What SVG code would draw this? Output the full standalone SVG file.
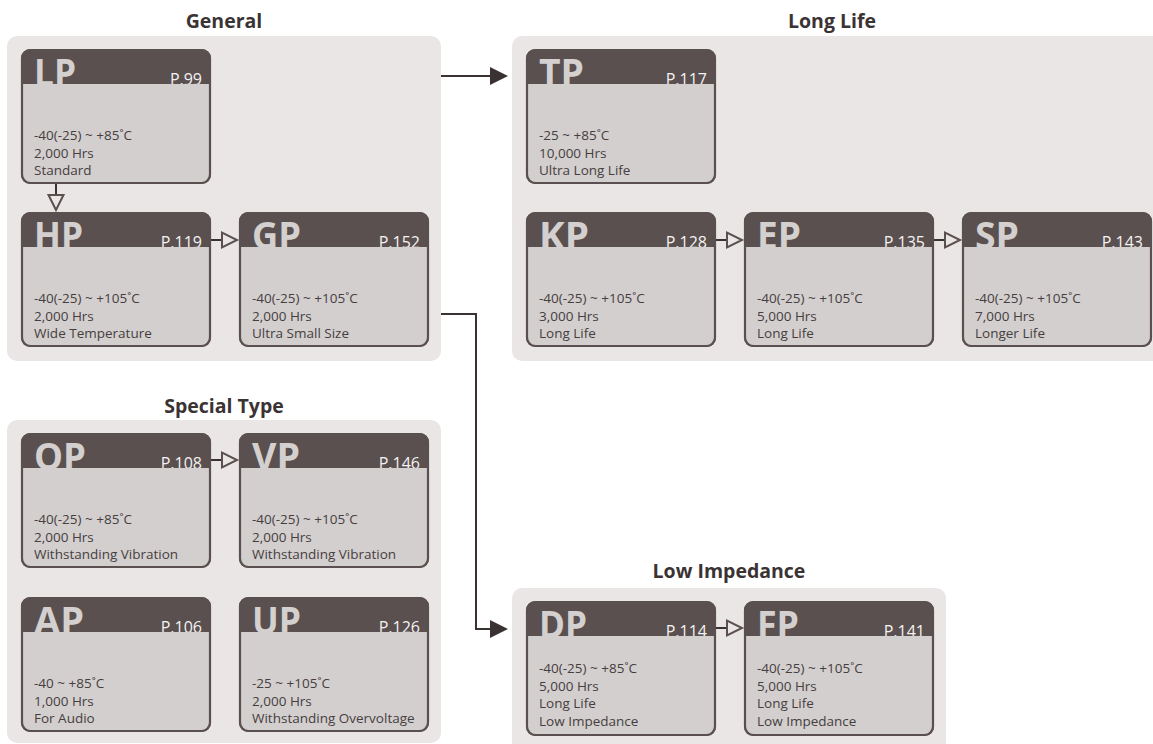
<svg xmlns="http://www.w3.org/2000/svg" width="1153" height="744" viewBox="0 0 1153 744">
<defs>
<style>
.panel{fill:#eae6e6}
.title{font-family:"Open Sans","Liberation Sans",sans-serif;font-weight:bold;font-size:19.5px;fill:#3b3333;text-anchor:middle}
.hd{fill:#5a504f}
.bd{fill:#d3cfce}
.ol{fill:none;stroke:#5a504f;stroke-width:2.2}
.big{font-family:"Open Sans","Liberation Sans",sans-serif;font-weight:bold;font-size:38px;fill:#d4d0cf}
.pg{font-family:"Open Sans","Liberation Sans",sans-serif;font-size:16px;fill:#f4f2f2;text-anchor:end}
.tx{font-family:"Open Sans","Liberation Sans",sans-serif;font-size:13.5px;fill:#463e3e}
.ln{fill:none;stroke:#3a3232;stroke-width:2}
.hol{fill:#eae6e6;stroke:#5a504f;stroke-width:2;stroke-linejoin:miter}
.sol{fill:#3a3232}
</style>
</defs>

<g id="panels">
<rect class="panel" x="7" y="36" width="434" height="325" rx="10"/>
<rect class="panel" x="512" y="36" width="660" height="325" rx="10"/>
<rect class="panel" x="7" y="420" width="434" height="323" rx="10"/>
<rect class="panel" x="512" y="588" width="434" height="170" rx="10"/>
<text class="title" x="224" y="28">General</text>
<text class="title" x="832" y="28">Long Life</text>
<text class="title" x="224" y="413">Special Type</text>
<text class="title" x="729" y="578">Low Impedance</text>
</g>

<g id="connectors">
<path class="ln" d="M441,76 H492"/>
<path class="sol" d="M490,67 L508,76 L490,85 Z"/>
<path class="ln" d="M441,314 H476 V629 H492"/>
<path class="sol" d="M490,620 L508,629 L490,638 Z"/>
<path class="ln" d="M56,184 V195"/>
<path class="hol" d="M48.5,195 H63.5 L56,210 Z"/>
<path class="ln" d="M211,240 H222"/>
<path class="hol" d="M222,232.5 V247.5 L237,240 Z"/>
<path class="ln" d="M716,240 H727"/>
<path class="hol" d="M727,232.5 V247.5 L742,240 Z"/>
<path class="ln" d="M934,240 H945"/>
<path class="hol" d="M945,232.5 V247.5 L960,240 Z"/>
<path class="ln" d="M211,460 H222"/>
<path class="hol" d="M222,452.5 V467.5 L237,460 Z"/>
<path class="ln" d="M716,628 H727"/>
<path class="hol" d="M727,620.5 V635.5 L742,628 Z"/>
</g>

<g id="LP" transform="translate(21,49)">
<rect class="hd" width="190" height="135" rx="9"/>
<text class="big" x="13" y="37" textLength="42" lengthAdjust="spacingAndGlyphs">LP</text>
<text class="pg" x="181" y="35.5">P.99</text>
<path class="bd" d="M1,35 H189 V126 A8,8 0 0 1 181,134 H9 A8,8 0 0 1 1,126 Z"/>
<rect class="ol" x="1" y="1" width="188" height="133" rx="8.5"/>
<text class="tx" x="13" y="91">-40(-25) ~ +85˚C</text>
<text class="tx" x="13" y="108.5">2,000 Hrs</text>
<text class="tx" x="13" y="126">Standard</text>
</g>

<g id="HP" transform="translate(21,212)">
<rect class="hd" width="190" height="135" rx="9"/>
<text class="big" x="13" y="37" textLength="49" lengthAdjust="spacingAndGlyphs">HP</text>
<text class="pg" x="181" y="35.5">P.119</text>
<path class="bd" d="M1,35 H189 V126 A8,8 0 0 1 181,134 H9 A8,8 0 0 1 1,126 Z"/>
<rect class="ol" x="1" y="1" width="188" height="133" rx="8.5"/>
<text class="tx" x="13" y="91">-40(-25) ~ +105˚C</text>
<text class="tx" x="13" y="108.5">2,000 Hrs</text>
<text class="tx" x="13" y="126">Wide Temperature</text>
</g>

<g id="GP" transform="translate(239,212)">
<rect class="hd" width="190" height="135" rx="9"/>
<text class="big" x="13" y="37" textLength="49" lengthAdjust="spacingAndGlyphs">GP</text>
<text class="pg" x="181" y="35.5">P.152</text>
<path class="bd" d="M1,35 H189 V126 A8,8 0 0 1 181,134 H9 A8,8 0 0 1 1,126 Z"/>
<rect class="ol" x="1" y="1" width="188" height="133" rx="8.5"/>
<text class="tx" x="13" y="91">-40(-25) ~ +105˚C</text>
<text class="tx" x="13" y="108.5">2,000 Hrs</text>
<text class="tx" x="13" y="126">Ultra Small Size</text>
</g>

<g id="TP" transform="translate(526,49)">
<rect class="hd" width="190" height="135" rx="9"/>
<text class="big" x="13" y="37" textLength="45" lengthAdjust="spacingAndGlyphs">TP</text>
<text class="pg" x="181" y="35.5">P.117</text>
<path class="bd" d="M1,35 H189 V126 A8,8 0 0 1 181,134 H9 A8,8 0 0 1 1,126 Z"/>
<rect class="ol" x="1" y="1" width="188" height="133" rx="8.5"/>
<text class="tx" x="13" y="91">-25 ~ +85˚C</text>
<text class="tx" x="13" y="108.5">10,000 Hrs</text>
<text class="tx" x="13" y="126">Ultra Long Life</text>
</g>

<g id="KP" transform="translate(526,212)">
<rect class="hd" width="190" height="135" rx="9"/>
<text class="big" x="13" y="37" textLength="50" lengthAdjust="spacingAndGlyphs">KP</text>
<text class="pg" x="181" y="35.5">P.128</text>
<path class="bd" d="M1,35 H189 V126 A8,8 0 0 1 181,134 H9 A8,8 0 0 1 1,126 Z"/>
<rect class="ol" x="1" y="1" width="188" height="133" rx="8.5"/>
<text class="tx" x="13" y="91">-40(-25) ~ +105˚C</text>
<text class="tx" x="13" y="108.5">3,000 Hrs</text>
<text class="tx" x="13" y="126">Long Life</text>
</g>

<g id="EP" transform="translate(744,212)">
<rect class="hd" width="190" height="135" rx="9"/>
<text class="big" x="13" y="37" textLength="44" lengthAdjust="spacingAndGlyphs">EP</text>
<text class="pg" x="181" y="35.5">P.135</text>
<path class="bd" d="M1,35 H189 V126 A8,8 0 0 1 181,134 H9 A8,8 0 0 1 1,126 Z"/>
<rect class="ol" x="1" y="1" width="188" height="133" rx="8.5"/>
<text class="tx" x="13" y="91">-40(-25) ~ +105˚C</text>
<text class="tx" x="13" y="108.5">5,000 Hrs</text>
<text class="tx" x="13" y="126">Long Life</text>
</g>

<g id="SP" transform="translate(962,212)">
<rect class="hd" width="190" height="135" rx="9"/>
<text class="big" x="13" y="37" textLength="44" lengthAdjust="spacingAndGlyphs">SP</text>
<text class="pg" x="181" y="35.5">P.143</text>
<path class="bd" d="M1,35 H189 V126 A8,8 0 0 1 181,134 H9 A8,8 0 0 1 1,126 Z"/>
<rect class="ol" x="1" y="1" width="188" height="133" rx="8.5"/>
<text class="tx" x="13" y="91">-40(-25) ~ +105˚C</text>
<text class="tx" x="13" y="108.5">7,000 Hrs</text>
<text class="tx" x="13" y="126">Longer Life</text>
</g>

<g id="QP" transform="translate(21,433)">
<rect class="hd" width="190" height="135" rx="9"/>
<text class="big" x="13" y="37" textLength="52" lengthAdjust="spacingAndGlyphs">QP</text>
<text class="pg" x="181" y="35.5">P.108</text>
<path class="bd" d="M1,35 H189 V126 A8,8 0 0 1 181,134 H9 A8,8 0 0 1 1,126 Z"/>
<rect class="ol" x="1" y="1" width="188" height="133" rx="8.5"/>
<text class="tx" x="13" y="91">-40(-25) ~ +85˚C</text>
<text class="tx" x="13" y="108.5">2,000 Hrs</text>
<text class="tx" x="13" y="126">Withstanding Vibration</text>
</g>

<g id="VP" transform="translate(239,433)">
<rect class="hd" width="190" height="135" rx="9"/>
<text class="big" x="13" y="37" textLength="48" lengthAdjust="spacingAndGlyphs">VP</text>
<text class="pg" x="181" y="35.5">P.146</text>
<path class="bd" d="M1,35 H189 V126 A8,8 0 0 1 181,134 H9 A8,8 0 0 1 1,126 Z"/>
<rect class="ol" x="1" y="1" width="188" height="133" rx="8.5"/>
<text class="tx" x="13" y="91">-40(-25) ~ +105˚C</text>
<text class="tx" x="13" y="108.5">2,000 Hrs</text>
<text class="tx" x="13" y="126">Withstanding Vibration</text>
</g>

<g id="AP" transform="translate(21,597)">
<rect class="hd" width="190" height="135" rx="9"/>
<text class="big" x="13" y="37" textLength="50" lengthAdjust="spacingAndGlyphs">AP</text>
<text class="pg" x="181" y="35.5">P.106</text>
<path class="bd" d="M1,35 H189 V126 A8,8 0 0 1 181,134 H9 A8,8 0 0 1 1,126 Z"/>
<rect class="ol" x="1" y="1" width="188" height="133" rx="8.5"/>
<text class="tx" x="13" y="91">-40 ~ +85˚C</text>
<text class="tx" x="13" y="108.5">1,000 Hrs</text>
<text class="tx" x="13" y="126">For Audio</text>
</g>

<g id="UP" transform="translate(239,597)">
<rect class="hd" width="190" height="135" rx="9"/>
<text class="big" x="13" y="37" textLength="49" lengthAdjust="spacingAndGlyphs">UP</text>
<text class="pg" x="181" y="35.5">P.126</text>
<path class="bd" d="M1,35 H189 V126 A8,8 0 0 1 181,134 H9 A8,8 0 0 1 1,126 Z"/>
<rect class="ol" x="1" y="1" width="188" height="133" rx="8.5"/>
<text class="tx" x="13" y="91">-25 ~ +105˚C</text>
<text class="tx" x="13" y="108.5">2,000 Hrs</text>
<text class="tx" x="13" y="126">Withstanding Overvoltage</text>
</g>

<g id="DP" transform="translate(526,601)">
<rect class="hd" width="190" height="135" rx="9"/>
<text class="big" x="13" y="37" textLength="48" lengthAdjust="spacingAndGlyphs">DP</text>
<text class="pg" x="181" y="35.5">P.114</text>
<path class="bd" d="M1,35 H189 V126 A8,8 0 0 1 181,134 H9 A8,8 0 0 1 1,126 Z"/>
<rect class="ol" x="1" y="1" width="188" height="133" rx="8.5"/>
<text class="tx" x="13" y="72">-40(-25) ~ +85˚C</text>
<text class="tx" x="13" y="89.5">5,000 Hrs</text>
<text class="tx" x="13" y="107">Long Life</text>
<text class="tx" x="13" y="124.5">Low Impedance</text>
</g>

<g id="FP" transform="translate(744,601)">
<rect class="hd" width="190" height="135" rx="9"/>
<text class="big" x="13" y="37" textLength="42" lengthAdjust="spacingAndGlyphs">FP</text>
<text class="pg" x="181" y="35.5">P.141</text>
<path class="bd" d="M1,35 H189 V126 A8,8 0 0 1 181,134 H9 A8,8 0 0 1 1,126 Z"/>
<rect class="ol" x="1" y="1" width="188" height="133" rx="8.5"/>
<text class="tx" x="13" y="72">-40(-25) ~ +105˚C</text>
<text class="tx" x="13" y="89.5">5,000 Hrs</text>
<text class="tx" x="13" y="107">Long Life</text>
<text class="tx" x="13" y="124.5">Low Impedance</text>
</g>
</svg>
